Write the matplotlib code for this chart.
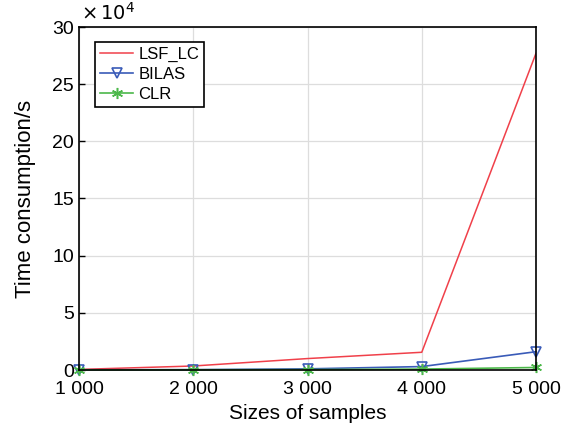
import matplotlib
matplotlib.use('Agg')
import matplotlib.pyplot as plt

plt.rcParams['font.family'] = ['Liberation Sans', 'DejaVu Sans']

sizes = [1000, 2000, 3000, 4000, 5000]
tick_labels = ['1 000', '2 000', '3 000', '4 000', '5 000']
# times in units of 1e4 s
lsf_lc = [0.05, 0.35, 1.0, 1.55, 27.7]
bilas = [0.02, 0.03, 0.1, 0.3, 1.6]
clr = [0.01, 0.02, 0.03, 0.08, 0.22]

fig = plt.figure(figsize=(5.62, 4.36), dpi=100)
ax = fig.add_axes([79/562, 1-370/436, (536-79)/562, (370-27)/436])

ax.plot(sizes, lsf_lc, color='#f0404a', lw=1.1, label='LSF_LC')
ax.plot(sizes, bilas, color='#3a5bb8', lw=1.2, marker='v', ms=7, mfc='none',
        mew=1.2, label='BILAS', clip_on=False)
ax.plot(sizes, clr, color='#4cb84a', lw=1.2, marker=(6, 2, 0), ms=8,
        mew=1.1, label='CLR', clip_on=False)

ax.set_xlim(1000, 5000)
ax.set_ylim(0, 30)
ax.set_xticks(sizes)
ax.set_xticklabels(tick_labels)
ax.set_yticks([0, 5, 10, 15, 20, 25, 30])
ax.tick_params(direction='in', labelsize=14, length=4, width=1)
ax.tick_params(axis='x', pad=8)
ax.grid(True, color='#dddddd', lw=0.9)
for s in ax.spines.values():
    s.set_linewidth(1.2)

ax.set_xlabel('Sizes of samples', fontsize=15)
ax.set_ylabel('Time consumption/s', fontsize=16, labelpad=12)
ax.text(0.005, 1.02, r'$\times\,10^4$', transform=ax.transAxes, fontsize=14,
        ha='left', va='baseline', math_fontfamily='dejavusans')

leg = ax.legend(loc='upper left', bbox_to_anchor=(0.035, 0.956), fontsize=12,
                fancybox=False, edgecolor='black', framealpha=1,
                handlelength=2.0, borderpad=0.3, labelspacing=0.3,
                handletextpad=0.3, borderaxespad=0)
leg.get_frame().set_linewidth(1.2)

fig.savefig('out.png', dpi=100)
